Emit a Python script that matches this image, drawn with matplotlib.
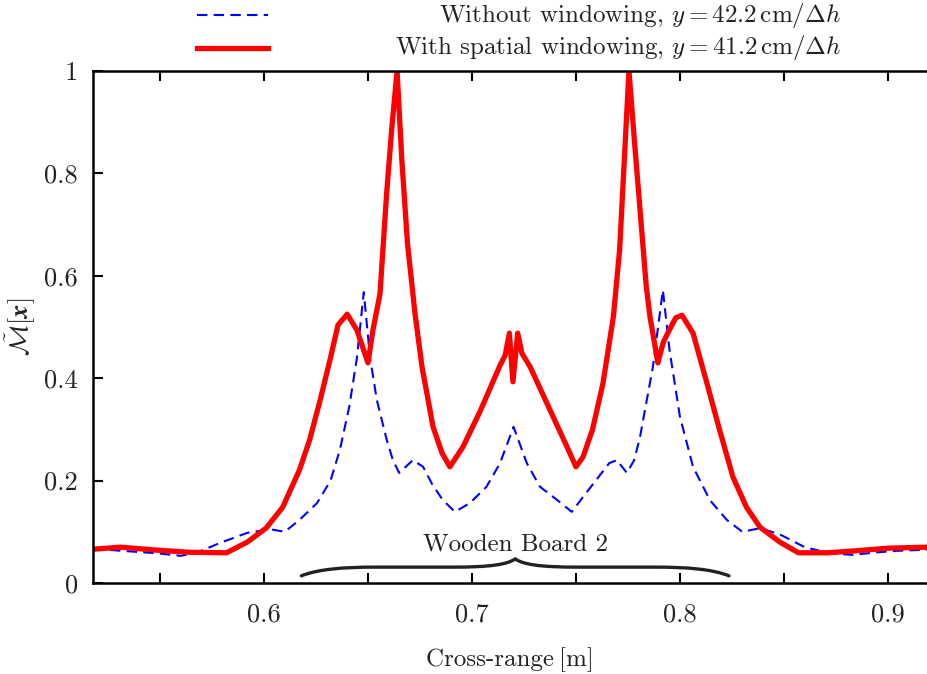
import matplotlib
matplotlib.use("Agg")
import matplotlib.pyplot as plt
from matplotlib.lines import Line2D
from matplotlib.path import Path
from matplotlib.patches import PathPatch
import numpy as np

plt.rcParams['font.family'] = ['cmr10', 'DejaVu Serif']
plt.rcParams['mathtext.fontset'] = 'cm'
plt.rcParams['axes.formatter.use_mathtext'] = True

# data
x_plain = [0.518, 0.531, 0.549, 0.560, 0.568, 0.580, 0.592, 0.603, 0.610, 0.617,
           0.6255, 0.632, 0.6365, 0.641, 0.6447, 0.648, 0.651, 0.6543, 0.659, 0.662,
           0.665, 0.6716, 0.6765, 0.681, 0.686, 0.6918, 0.699, 0.707, 0.7135, 0.720,
           0.7264, 0.7327, 0.741, 0.748, 0.7534, 0.758, 0.766, 0.7697, 0.7745, 0.778,
           0.7808, 0.787, 0.7918, 0.795, 0.800, 0.8063, 0.8144, 0.8226, 0.830, 0.8385,
           0.848, 0.860, 0.872, 0.883, 0.895, 0.905, 0.919]
y_plain = [0.067, 0.063, 0.058, 0.053, 0.060, 0.080, 0.098, 0.105, 0.100, 0.123,
           0.156, 0.200, 0.260, 0.344, 0.440, 0.568, 0.440, 0.357, 0.280, 0.240,
           0.215, 0.240, 0.227, 0.192, 0.162, 0.139, 0.156, 0.188, 0.234, 0.305,
           0.234, 0.188, 0.162, 0.139, 0.168, 0.192, 0.234, 0.240, 0.215, 0.240,
           0.285, 0.422, 0.572, 0.455, 0.325, 0.227, 0.162, 0.123, 0.100, 0.107,
           0.095, 0.070, 0.058, 0.055, 0.060, 0.063, 0.065]

x_win = [0.518, 0.531, 0.549, 0.564, 0.582, 0.592, 0.601, 0.609, 0.617, 0.622,
         0.627, 0.632, 0.6356, 0.640, 0.6447, 0.650, 0.6524, 0.6558, 0.659, 0.6615,
         0.664, 0.6663, 0.669, 0.6726, 0.676, 0.6813, 0.6856, 0.6894, 0.6957, 0.704,
         0.7135, 0.716, 0.718, 0.7197, 0.722, 0.724, 0.728, 0.739, 0.7457, 0.750,
         0.7534, 0.758, 0.763, 0.768, 0.771, 0.7755, 0.778, 0.7806, 0.7838, 0.7856,
         0.7894, 0.792, 0.795, 0.798, 0.801, 0.8063, 0.813, 0.819, 0.8255, 0.832,
         0.8385, 0.848, 0.857, 0.871, 0.885, 0.900, 0.919]
y_win = [0.066, 0.070, 0.064, 0.060, 0.059, 0.080, 0.107, 0.148, 0.220, 0.280,
         0.357, 0.440, 0.504, 0.525, 0.494, 0.430, 0.494, 0.565, 0.762, 0.890,
         1.000, 0.826, 0.664, 0.527, 0.422, 0.305, 0.254, 0.227, 0.266, 0.336,
         0.425, 0.445, 0.488, 0.393, 0.488, 0.449, 0.422, 0.325, 0.266, 0.227,
         0.246, 0.300, 0.390, 0.520, 0.650, 1.000, 0.870, 0.740, 0.580, 0.520,
         0.430, 0.470, 0.495, 0.518, 0.523, 0.488, 0.390, 0.300, 0.207, 0.148,
         0.109, 0.080, 0.059, 0.059, 0.063, 0.068, 0.070]

label_plain = r'Without windowing, $y = 42.2\,\mathrm{cm}/\Delta h$'
label_win = r'With spatial windowing, $y = 41.2\,\mathrm{cm}/\Delta h$'

board_label = 'Wooden Board 2'
board_left, board_right = 0.618, 0.8236

txt = '#222222'
W, H = 927, 674
fig = plt.figure(figsize=(W / 100, H / 100), dpi=100)
ax = fig.add_axes([93 / W, (H - 583) / H, (W - 93) / W, 512 / H])

dash = (0, (5, 3))
ax.plot(x_plain, y_plain, color='#0000ff', lw=1.5, ls=dash)
ax.plot(x_win, y_win, color='#ff0000', lw=3.8, solid_joinstyle='round')

ax.set_xlim(0.5178, 0.9188)
ax.set_ylim(0, 1)

ax.set_xticks([0.6, 0.7, 0.8, 0.9])
ax.set_xticklabels(['0.6', '0.7', '0.8', '0.9'])
ax.set_xticks(np.arange(0.55, 0.92, 0.05), minor=True)
ax.set_yticks([0, 0.2, 0.4, 0.6, 0.8, 1.0])
ax.set_yticklabels(['0', '0.2', '0.4', '0.6', '0.8', '1'])

for which in ('major', 'minor'):
    ax.tick_params(axis='x', which=which, direction='in', top=True, bottom=True,
                   length=7, width=1.5, pad=14, labelsize=19, labelcolor=txt)
ax.tick_params(axis='y', direction='in', length=7, width=1.5, pad=11,
               labelsize=19, labelcolor=txt)
ax.tick_params(axis='x', which='minor', labelbottom=False)

ax.spines['right'].set_visible(False)
for s in ('left', 'top', 'bottom'):
    ax.spines[s].set_linewidth(1.8)

ax.set_xlabel('Cross-range\u2009[m]', fontsize=18, color=txt, labelpad=15)
ax.set_ylabel(r'$\tilde{\mathcal{M}}[\boldsymbol{x}]$', fontsize=19, color=txt,
              labelpad=4)

# brace under the board
xc = 0.5 * (board_left + board_right)
yb, yf, yt = 0.014, 0.031, 0.047
verts = [(board_left, yb),
         (board_left + 0.008, 0.027), (board_left + 0.02, yf), (board_left + 0.035, yf),
         (xc - 0.03, yf),
         (xc - 0.012, yf), (xc - 0.004, 0.036), (xc, yt),
         (xc + 0.004, 0.036), (xc + 0.012, yf), (xc + 0.03, yf),
         (board_right - 0.035, yf),
         (board_right - 0.02, yf), (board_right - 0.008, 0.027), (board_right, yb)]
codes = [Path.MOVETO] + [Path.CURVE4] * 3 + [Path.LINETO] + [Path.CURVE4] * 6 + \
        [Path.LINETO] + [Path.CURVE4] * 3
ax.add_patch(PathPatch(Path(verts, codes), fill=False, lw=2.4, ec='#222222',
                       capstyle='round'))
ax.text(xc, 0.064, board_label, ha='center', va='baseline', fontsize=18, color=txt)

# legend drawn above the axes
for i, (lab, col, lw, ls) in enumerate([(label_plain, '#0000ff', 1.5, dash),
                                        (label_win, '#ff0000', 3.8, '-')]):
    yy = 1 - (15 + 33 * i) / H
    fig.add_artist(Line2D([197 / W, 268 / W], [yy, yy], color=col, lw=lw, ls=ls))
    fig.text(841 / W, yy, lab, ha='right', va='center', fontsize=18, color=txt)

fig.savefig('out.png', dpi=100)
